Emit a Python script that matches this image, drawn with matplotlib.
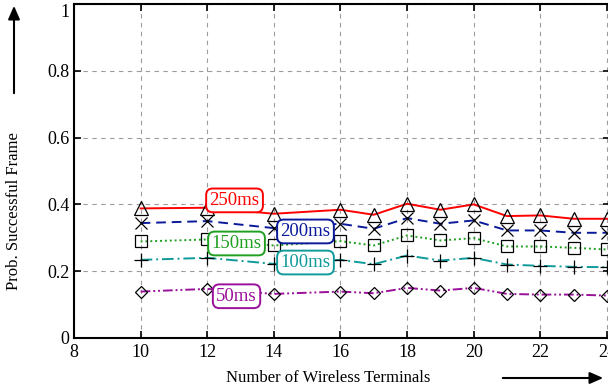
import numpy as np
import matplotlib
matplotlib.use("Agg")
import matplotlib.pyplot as plt

plt.rcParams["font.family"] = ["Liberation Serif", "DejaVu Serif"]

# number of wireless terminals
terminals = [10, 12, 14, 16, 17, 18, 19, 20, 21, 22, 23, 24]

# probability of a successful frame, per deadline
p_250 = [0.388, 0.390, 0.372, 0.384, 0.369, 0.402, 0.384, 0.400, 0.365, 0.367, 0.357, 0.357]
p_200 = [0.344, 0.350, 0.329, 0.342, 0.327, 0.359, 0.342, 0.352, 0.322, 0.322, 0.315, 0.315]
p_150 = [0.289, 0.295, 0.277, 0.290, 0.277, 0.307, 0.292, 0.299, 0.274, 0.274, 0.270, 0.265]
p_100 = [0.234, 0.240, 0.222, 0.234, 0.221, 0.247, 0.232, 0.240, 0.220, 0.216, 0.213, 0.212]
p_50 = [0.139, 0.147, 0.132, 0.139, 0.134, 0.150, 0.142, 0.150, 0.132, 0.130, 0.130, 0.127]

labels = ["250ms", "200ms", "150ms", "100ms", "50ms"]
label_pos = [(12.82, 0.412), (14.95, 0.319), (12.88, 0.283), (14.95, 0.226), (12.88, 0.125)]

red = "#ff0000"
navy = "#0a1a9a"
green = "#20a020"
teal = "#109a9a"
purple = "#9a109a"

fig = plt.figure(figsize=(6.08, 3.91), dpi=100)
ax = fig.add_axes([0.1217, 1 - 338 / 391, 0.882, 334 / 391])

series = [
    (p_250, red, "-", "^", 10),
    (p_200, navy, (0, (5, 3)), "x", 9),
    (p_150, green, (0, (1, 1.5)), "s", 8.5),
    (p_100, teal, (0, (6, 2, 1, 2)), "+", 9.5),
    (p_50, purple, (0, (5, 1.5, 1, 1.5, 1, 1.5)), "D", 6.5),
]
for vals, col, ls, mk, ms in series:
    ax.plot(terminals, vals, color=col, linestyle=ls, linewidth=1.4, zorder=2)
    ax.plot(terminals, vals, linestyle="none", marker=mk, markersize=ms,
            markerfacecolor="none", markeredgecolor="black", markeredgewidth=0.9, zorder=3)

for (lx, ly), txt, s in zip(label_pos, labels, series):
    col = s[1]
    ax.text(lx, ly, txt, color=col, fontsize=13.5, ha="center", va="center", zorder=5,
            bbox=dict(boxstyle="round,pad=0.18,rounding_size=0.35", fc="white", ec=col, lw=1.4))

ax.set_xlim(8, 24.1)
ax.set_ylim(0, 1)
ax.set_xticks(np.arange(8, 25, 2))
ax.set_yticks([0, 0.2, 0.4, 0.6, 0.8, 1])
ax.set_yticklabels(["0", "0.2", "0.4", "0.6", "0.8", "1"])
ax.tick_params(direction="in", length=5, width=1.2, labelsize=13, top=True, right=True)
ax.tick_params(axis="x", pad=4)
ax.get_yticklabels()[-1].set_va("top")
for s in ax.spines.values():
    s.set_linewidth(1.5)

ax.grid(True, color="#a09aa0", linestyle=(0, (4, 4)), linewidth=0.8)

fig.text(328 / 608, 1 - 378 / 391, "Number of Wireless Terminals", ha="center", va="center", fontsize=12)
fig.text(14 / 608, 1 - 211 / 391, "Prob. Successful Frame", ha="center", va="center",
         rotation=90, fontsize=12)

fig.add_artist(matplotlib.patches.FancyArrowPatch(
    (500 / 608, 1 - 378 / 391), (606 / 608, 1 - 378 / 391), transform=fig.transFigure,
    arrowstyle="-|>,head_length=8,head_width=3.5", color="black", lw=1.5))
fig.add_artist(matplotlib.patches.FancyArrowPatch(
    (14 / 608, 1 - 96 / 391), (14 / 608, 1 - 3 / 391), transform=fig.transFigure,
    arrowstyle="-|>,head_length=8,head_width=3.5", color="black", lw=1.5))

fig.savefig("out.png", dpi=100)
